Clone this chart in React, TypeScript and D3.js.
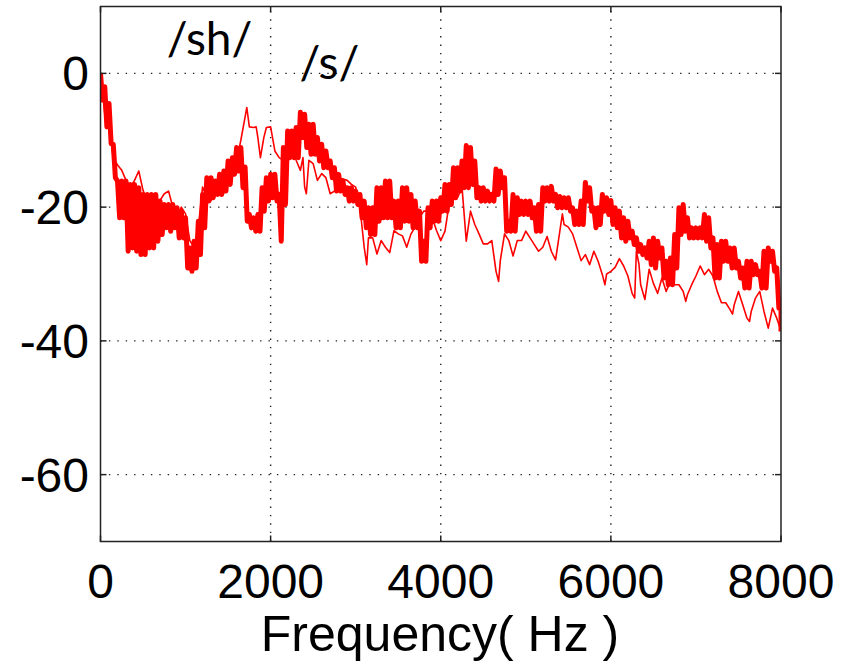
import React from "react";
import * as d3 from "d3";

const W = 853;
const H = 666;

// Thick spectrum, read every 50 Hz from 0 to 8000 Hz as the local
// upper and lower extent of the rapidly fluctuating trace (dB)
const thickStepHz = 50;
const thickHi = [
  0, -2, -4.5, -10.6, -16.1, -16.1, -16.1, -16.6, -16.6, -17.1,
  -18.1, -18.1, -18.1, -18.1, -19.1, -19.6, -19.6, -19.6, -20.1, -20.6,
  -21.6, -26.1, -25.1, -22.1, -18.1, -15.6, -15.6, -16.1, -15.1, -14.6,
  -13.1, -12.6, -11.1, -11.1, -14, -21.1, -21.6, -21.1, -17.1, -15.6,
  -15.1, -15.1, -18.1, -11.1, -8.6, -8.6, -8.1, -5.8, -6.1, -7.6,
  -7.6, -9.6, -10.6, -11.6, -13.1, -14.1, -15.1, -16.1, -17.1, -17.1,
  -17.6, -18.1, -19.1, -20.1, -20.1, -17.1, -17.1, -16.1, -16.1, -19.1,
  -19.1, -17.1, -17.1, -18.1, -19.1, -20.6, -25.1, -20.1, -19.1, -19.1,
  -18.6, -16.6, -16.6, -14.1, -14.1, -13.1, -10.8, -11.1, -13.1, -17.1,
  -17.1, -17.6, -18.1, -14.3, -14.6, -15.6, -22.1, -18.1, -18.6, -19.1,
  -19.1, -19.1, -20.1, -19.6, -17.1, -17.1, -16.9, -18.1, -18.4, -18.6,
  -18.6, -20.1, -20.6, -19.1, -16.3, -17.1, -20.1, -20.1, -18.1, -18.6,
  -19, -20.1, -20.6, -21.6, -22.1, -23.6, -24.6, -25.6, -26.1, -25.1,
  -24.6, -25.1, -26.1, -28.1, -27.6, -24.1, -20.1, -19.6, -21.6, -23.1,
  -23.1, -23.1, -21.1, -21.6, -24.6, -25.6, -25.1, -25.1, -26.1, -26.1,
  -28.1, -29.1, -28.1, -28.1, -28.6, -29.6, -26.6, -26.1, -26.6, -29.1,
  -35,
];
const thickLo = [
  -4, -8, -10.5, -15.6, -21.6, -21.6, -26.6, -26.1, -26.6, -27.1,
  -27.1, -26.1, -26.1, -25.1, -24.1, -23.1, -23.6, -23.1, -24.6, -24.6,
  -29.1, -29.6, -29.1, -27.1, -23.1, -19.1, -18.6, -18.1, -18.1, -17.6,
  -16.6, -15.1, -14.6, -17.1, -22.1, -23.1, -23.6, -23.6, -20.6, -19.1,
  -18.6, -19.1, -25.1, -19.6, -12.6, -12.6, -12.6, -9.6, -11.1, -12.1,
  -12.1, -13.1, -14.1, -14.1, -15.6, -17.6, -17.6, -18.1, -19.1, -19.1,
  -19.6, -21.6, -23.1, -24.1, -24.1, -22.1, -21.6, -21.6, -21.6, -23.1,
  -23.1, -22.1, -22.1, -23.1, -23.1, -28.1, -28.1, -23.1, -22.1, -22.1,
  -20.6, -20.6, -19.6, -18.6, -17.6, -17.1, -17.1, -16.6, -18.6, -19.1,
  -19.1, -19.1, -19.1, -18.1, -17.1, -23.6, -23.6, -23.6, -21.1, -21.1,
  -21.1, -21.6, -23.6, -23.6, -19.1, -19.1, -19.1, -20.1, -20.1, -20.1,
  -20.6, -22.6, -22.6, -22.6, -19.1, -20.6, -23.1, -22.6, -20.6, -21.1,
  -22.6, -23.1, -24.6, -25.1, -24.6, -25.6, -26.6, -27.1, -27.6, -28.6,
  -29.1, -27.6, -30.6, -31.6, -31.6, -29.1, -24.1, -23.6, -24.6, -24.6,
  -24.6, -24.6, -25.1, -26.1, -30.6, -30.6, -28.1, -28.1, -29.1, -29.1,
  -30.6, -32.1, -32.1, -30.1, -30.1, -32.1, -32.1, -28.1, -29.6, -35.1,
  -38.6,
];

// Thin spectrum
const thinHz = [
  0, 50, 100, 150, 200, 250, 300, 350, 400, 450,
  500, 550, 600, 650, 700, 750, 800, 850, 900, 950,
  1000, 1050, 1100, 1150, 1200, 1250, 1300, 1350, 1400, 1450,
  1500, 1550, 1600, 1650, 1700, 1720, 1750, 1800, 1830, 1850,
  1880, 1920, 1950, 2000, 2050, 2100, 2150, 2200, 2250, 2300,
  2350, 2380, 2400, 2420, 2450, 2500, 2550, 2600, 2650, 2700,
  2750, 2800, 2850, 2900, 2950, 3000, 3050, 3100, 3130, 3150,
  3200, 3250, 3300, 3350, 3400, 3450, 3500, 3550, 3600, 3650,
  3700, 3750, 3800, 3850, 3900, 3950, 4000, 4050, 4100, 4150,
  4200, 4250, 4300, 4350, 4400, 4450, 4500, 4550, 4600, 4650,
  4680, 4700, 4750, 4800, 4850, 4900, 4950, 5000, 5050, 5100,
  5150, 5200, 5250, 5300, 5350, 5400, 5430, 5450, 5500, 5550,
  5600, 5650, 5700, 5750, 5800, 5850, 5900, 5930, 5950, 6000,
  6050, 6100, 6150, 6200, 6250, 6280, 6300, 6330, 6350, 6400,
  6450, 6500, 6550, 6600, 6650, 6700, 6750, 6800, 6850, 6880,
  6900, 6950, 7000, 7050, 7100, 7150, 7200, 7250, 7300, 7350,
  7400, 7430, 7450, 7500, 7550, 7600, 7630, 7650, 7700, 7750,
  7800, 7850, 7900, 7950, 8000,
];
const thinDb = [
  0, -6, -8, -12.6, -13.7, -14.5, -16, -17, -16, -14.6,
  -17.5, -19, -20.5, -20, -19, -18, -17.6, -20, -21.6, -20,
  -21, -25, -26, -23, -17, -18.5, -19, -18, -17.5, -16,
  -15, -14, -13, -10, -6.5, -5.1, -8, -8.1, -8, -9.6,
  -12.6, -9.6, -8.1, -8, -11.6, -12.6, -13, -11, -11, -13,
  -14.5, -12.6, -17, -18, -13, -13.5, -16, -15, -15.6, -18,
  -17.6, -15.6, -15.8, -16, -16.6, -17, -20, -26, -28.6, -24.6,
  -24.6, -27, -25, -26, -26.8, -23.5, -24, -24.3, -26, -24,
  -23, -21.6, -20.6, -20.6, -21.6, -23.5, -25, -23.6, -19.4, -18.6,
  -18.5, -17, -25.1, -20.6, -22.6, -24, -25.5, -25.5, -25, -29.6,
  -31.1, -28, -24, -25, -27.3, -25, -25, -23.6, -24.6, -25.6,
  -26.6, -26, -24.4, -26.6, -27.9, -23.6, -21, -22.6, -23, -24,
  -26, -28, -27.1, -28.6, -26.6, -28.1, -30.1, -31.6, -30, -29.6,
  -29, -27.7, -28.8, -30.3, -32.9, -33.6, -26.6, -28.5, -31.6, -33.8,
  -29.3, -31.4, -32.9, -30.6, -32.6, -31.1, -31.6, -31.6, -32.6, -34.1,
  -33.1, -31.6, -30.3, -28.8, -30.1, -29.3, -30.3, -32.6, -34.3, -34.3,
  -35.3, -36, -34.6, -32.6, -34.6, -36.6, -37.1, -35.6, -33.6, -32.6,
  -35.6, -38.1, -35.1, -36.6, -38.5,
];

const xTicks = [0, 2000, 4000, 6000, 8000];
const yTicks = [0, -20, -40, -60];
const xLabel = "Frequency( Hz )";
const annotations = [
  { text: "/sh/", hz: 780, db: 2.8 },
  { text: "/s/", hz: 2340, db: -0.8 },
];

export default function App() {
  const left = 100.5;
  const right = 781;
  const top = 6.5;
  const bottom = 541.5;

  const x = d3.scaleLinear().domain([0, 8000]).range([left, right]);
  const y = d3.scaleLinear().domain([-70, 10]).range([bottom, top]);

  // zig-zag trace through the upper / lower extents
  const thick: [number, number][] = [];
  thickHi.forEach((hi, i) => {
    const f = i * thickStepHz;
    thick.push([f, hi]);
    const fl = i === thickHi.length - 1 ? f : f + thickStepHz / 2;
    thick.push([fl, thickLo[i]]);
  });
  const thin = thinHz.map((f, i) => [f, thinDb[i]] as [number, number]);

  const line = d3
    .line<[number, number]>()
    .x((d) => x(d[0]))
    .y((d) => y(d[1]));

  const tickLen = 6;
  const font = "'Liberation Sans', Arial, sans-serif";

  return (
    <svg
      width={W}
      height={H}
      style={{ position: "absolute", left: 0, top: 0, background: "#fff" }}
    >
      <defs>
        <clipPath id="plotclip">
          <rect x={left} y={top} width={right - left} height={bottom - top} />
        </clipPath>
      </defs>
      <rect x={0} y={0} width={W} height={H} fill="#fff" />
      {/* grid */}
      <g stroke="#222" strokeWidth={1.4} strokeDasharray="1.4 7" fill="none">
        {xTicks.slice(1, -1).map((t) => (
          <line key={"gx" + t} x1={x(t)} x2={x(t)} y1={bottom} y2={top} />
        ))}
        {yTicks.map((t) => (
          <line key={"gy" + t} x1={left} x2={right} y1={y(t)} y2={y(t)} />
        ))}
      </g>
      {/* data */}
      <g clipPath="url(#plotclip)" fill="none" stroke="#ff0000" strokeLinejoin="round">
        <path d={line(thin) || ""} strokeWidth={1.6} />
        <path d={line(thick) || ""} strokeWidth={5} />
      </g>
      {/* frame */}
      <rect
        x={left}
        y={top}
        width={right - left}
        height={bottom - top}
        fill="none"
        stroke="#222"
        strokeWidth={1.5}
      />
      {/* ticks */}
      <g stroke="#222" strokeWidth={1.5}>
        {xTicks.map((t) => (
          <g key={"tx" + t}>
            <line x1={x(t)} x2={x(t)} y1={bottom} y2={bottom - tickLen} />
            <line x1={x(t)} x2={x(t)} y1={top} y2={top + tickLen} />
          </g>
        ))}
        {yTicks.map((t) => (
          <g key={"ty" + t}>
            <line x1={left} x2={left + tickLen} y1={y(t)} y2={y(t)} />
            <line x1={right} x2={right - tickLen} y1={y(t)} y2={y(t)} />
          </g>
        ))}
      </g>
      {/* tick labels */}
      <g fontFamily={font} fontSize={48} fill="#000">
        {xTicks.map((t) => (
          <text key={"lx" + t} x={x(t)} y={598} textAnchor="middle">
            {t}
          </text>
        ))}
        {yTicks.map((t) => (
          <text key={"ly" + t} x={89} y={y(t) + 17} textAnchor="end">
            {t}
          </text>
        ))}
        <text x={440} y={651} textAnchor="middle" fontSize={50}>
          {xLabel}
        </text>
      </g>
      {/* annotations */}
      <g fontFamily="Lato, 'Open Sans', sans-serif" fontSize={46} fill="#000">
        {annotations.map((a) => (
          <text key={a.text} x={x(a.hz)} y={y(a.db)}>
            {a.text}
          </text>
        ))}
      </g>
    </svg>
  );
}
